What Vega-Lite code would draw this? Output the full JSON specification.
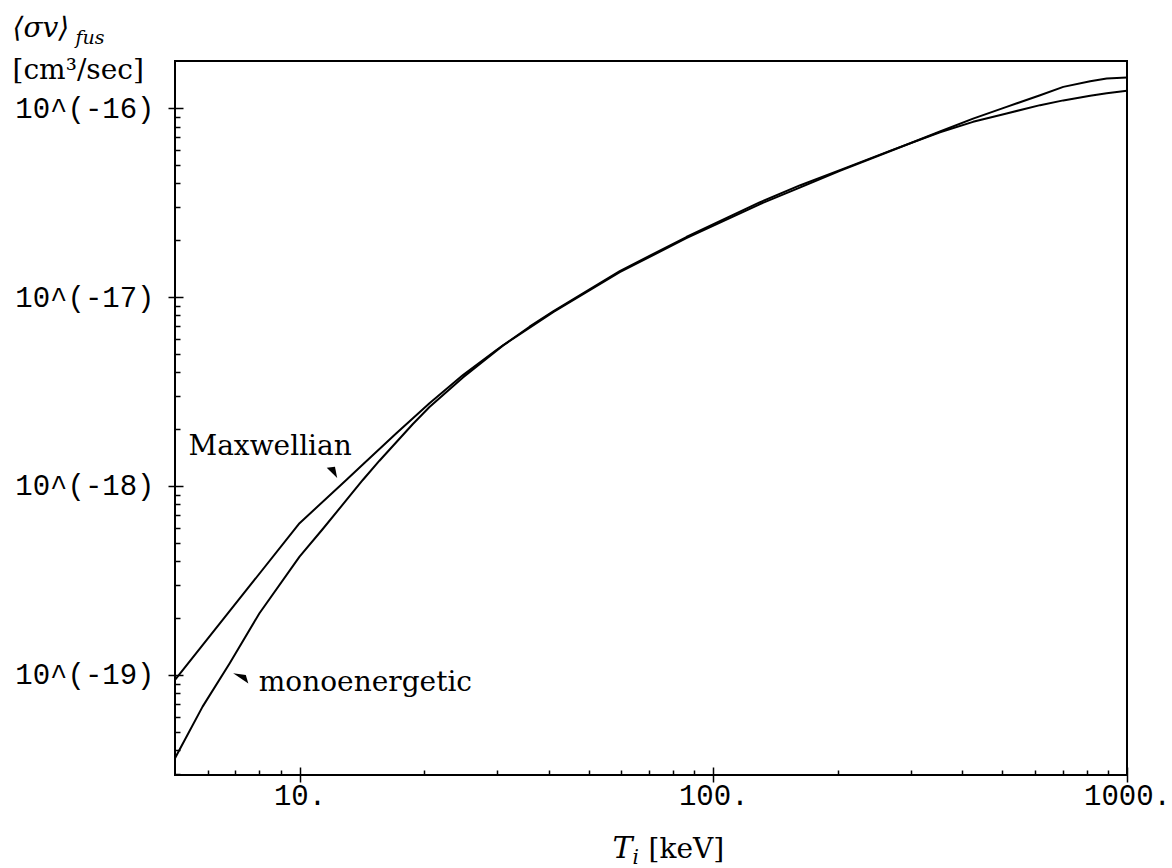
{
  "$schema": "https://vega.github.io/schema/vega-lite/v6.json",
  "width": 952,
  "height": 714,
  "autosize": {"type": "none"},
  "padding": {"left": 175, "top": 61, "right": 45, "bottom": 93},
  "background": "white",
  "config": {
    "view": {"stroke": "black", "strokeWidth": 2},
    "axis": {"grid": false, "domain": false, "tickColor": "black", "labelColor": "black", "titleColor": "black", "labelFlush": false, "labelOverlap": false, "labelBound": false, "titleFontWeight": "normal"}
  },
  "datasets": {
    "curves": [
      {"T": 5.0, "sv": 9.42e-20, "curve": "Maxwellian"},
      {"T": 10.0, "sv": 6.35e-19, "curve": "Maxwellian"},
      {"T": 12.97, "sv": 1.076e-18, "curve": "Maxwellian"},
      {"T": 14.22, "sv": 1.30e-18, "curve": "Maxwellian"},
      {"T": 17.14, "sv": 1.901e-18, "curve": "Maxwellian"},
      {"T": 20.61, "sv": 2.742e-18, "curve": "Maxwellian"},
      {"T": 24.83, "sv": 3.864e-18, "curve": "Maxwellian"},
      {"T": 29.92, "sv": 5.25e-18, "curve": "Maxwellian"},
      {"T": 35.97, "sv": 6.97e-18, "curve": "Maxwellian"},
      {"T": 41.02, "sv": 8.41e-18, "curve": "Maxwellian"},
      {"T": 59.43, "sv": 1.374e-17, "curve": "Maxwellian"},
      {"T": 86.1, "sv": 2.08e-17, "curve": "Maxwellian"},
      {"T": 129.4, "sv": 3.17e-17, "curve": "Maxwellian"},
      {"T": 161.8, "sv": 3.9e-17, "curve": "Maxwellian"},
      {"T": 202.3, "sv": 4.7e-17, "curve": "Maxwellian"},
      {"T": 267.3, "sv": 5.94e-17, "curve": "Maxwellian"},
      {"T": 353.2, "sv": 7.46e-17, "curve": "Maxwellian"},
      {"T": 424.6, "sv": 8.47e-17, "curve": "Maxwellian"},
      {"T": 511.7, "sv": 9.38e-17, "curve": "Maxwellian"},
      {"T": 616.6, "sv": 1.038e-16, "curve": "Maxwellian"},
      {"T": 701.5, "sv": 1.1e-16, "curve": "Maxwellian"},
      {"T": 814.7, "sv": 1.165e-16, "curve": "Maxwellian"},
      {"T": 893.3, "sv": 1.2e-16, "curve": "Maxwellian"},
      {"T": 1000, "sv": 1.236e-16, "curve": "Maxwellian"},
      {"T": 5.0, "sv": 3.62e-20, "curve": "monoenergetic"},
      {"T": 5.83, "sv": 6.79e-20, "curve": "monoenergetic"},
      {"T": 6.78, "sv": 1.153e-19, "curve": "monoenergetic"},
      {"T": 8.0, "sv": 2.12e-19, "curve": "monoenergetic"},
      {"T": 10.0, "sv": 4.23e-19, "curve": "monoenergetic"},
      {"T": 11.38, "sv": 5.92e-19, "curve": "monoenergetic"},
      {"T": 14.22, "sv": 1.076e-18, "curve": "monoenergetic"},
      {"T": 15.6, "sv": 1.361e-18, "curve": "monoenergetic"},
      {"T": 18.79, "sv": 2.128e-18, "curve": "monoenergetic"},
      {"T": 20.61, "sv": 2.618e-18, "curve": "monoenergetic"},
      {"T": 24.83, "sv": 3.758e-18, "curve": "monoenergetic"},
      {"T": 31.05, "sv": 5.55e-18, "curve": "monoenergetic"},
      {"T": 41.02, "sv": 8.32e-18, "curve": "monoenergetic"},
      {"T": 59.43, "sv": 1.355e-17, "curve": "monoenergetic"},
      {"T": 86.1, "sv": 2.05e-17, "curve": "monoenergetic"},
      {"T": 129.4, "sv": 3.1e-17, "curve": "monoenergetic"},
      {"T": 161.8, "sv": 3.8e-17, "curve": "monoenergetic"},
      {"T": 202.3, "sv": 4.66e-17, "curve": "monoenergetic"},
      {"T": 267.3, "sv": 5.92e-17, "curve": "monoenergetic"},
      {"T": 353.2, "sv": 7.53e-17, "curve": "monoenergetic"},
      {"T": 424.6, "sv": 8.81e-17, "curve": "monoenergetic"},
      {"T": 511.7, "sv": 1.016e-16, "curve": "monoenergetic"},
      {"T": 616.6, "sv": 1.172e-16, "curve": "monoenergetic"},
      {"T": 701.5, "sv": 1.297e-16, "curve": "monoenergetic"},
      {"T": 814.7, "sv": 1.39e-16, "curve": "monoenergetic"},
      {"T": 893.3, "sv": 1.436e-16, "curve": "monoenergetic"},
      {"T": 1000, "sv": 1.452e-16, "curve": "monoenergetic"}
    ],
    "labels": [
      {"T": 5.39, "sv": 1.46e-18, "label": "Maxwellian"},
      {"T": 7.97, "sv": 8.17e-20, "label": "monoenergetic"}
    ],
    "arrows": [
      {"T": 12.03, "sv": 1.194e-18, "curve": "Maxwellian"},
      {"T": 7.26, "sv": 9.64e-20, "curve": "monoenergetic"}
    ]
  },
  "layer": [
    {
      "data": {"name": "curves"},
      "mark": {"type": "line", "color": "black", "strokeWidth": 2, "clip": true, "interpolate": "linear", "strokeJoin": "round"},
      "encoding": {
        "x": {
          "field": "T", "type": "quantitative",
          "scale": {"type": "log", "domain": [5, 1000], "nice": false},
          "axis": {
            "orient": "bottom", "values": [10, 100, 1000],
            "labelExpr": "datum.value + '.'",
            "labelFont": "Liberation Mono", "labelFontSize": 29, "labelPadding": -1,
            "tickSize": 7, "tickWidth": 1.5,
            "title": "T", "titleFont": "DejaVu Serif", "titleFontStyle": "italic", "titleFontSize": 30,
            "titleX": 437, "titleY": 82, "titleAlign": "left", "titleBaseline": "alphabetic", "titleAngle": 0
          }
        },
        "y": {
          "field": "sv", "type": "quantitative",
          "scale": {"type": "log", "domain": [2.951e-20, 1.778e-16], "nice": false},
          "axis": {
            "orient": "left", "values": [1e-19, 1e-18, 1e-17, 1e-16],
            "labelExpr": "'10^(' + round(log(datum.value)/LN10) + ')'",
            "labelFont": "Liberation Mono", "labelFontSize": 29, "labelPadding": 14,
            "tickSize": 7, "tickWidth": 1.5,
            "title": "⟨σv⟩", "titleFont": "DejaVu Serif", "titleFontStyle": "italic", "titleFontSize": 28,
            "titleX": -163, "titleY": -25, "titleAlign": "left", "titleBaseline": "alphabetic", "titleAngle": 0
          }
        },
        "detail": {"field": "curve"}
      }
    },
    {
      "data": {"name": "labels"},
      "mark": {"type": "text", "font": "DejaVu Serif", "fontSize": 28, "align": "left", "baseline": "alphabetic", "color": "black"},
      "encoding": {
        "x": {
          "field": "T", "type": "quantitative",
          "scale": {"type": "log", "domain": [5, 1000], "nice": false},
          "axis": {
            "orient": "bottom",
            "values": [6, 7, 8, 9, 20, 30, 40, 50, 60, 70, 80, 90, 200, 300, 400, 500, 600, 700, 800, 900],
            "labels": false, "tickSize": -5, "tickWidth": 1.5,
            "title": "i", "titleFont": "DejaVu Serif", "titleFontStyle": "italic", "titleFontSize": 20,
            "titleX": 457, "titleY": 88, "titleAlign": "left", "titleBaseline": "alphabetic", "titleAngle": 0
          }
        },
        "y": {
          "field": "sv", "type": "quantitative",
          "scale": {"type": "log", "domain": [2.951e-20, 1.778e-16], "nice": false},
          "axis": {
            "orient": "left",
            "values": [3e-20, 4e-20, 5e-20, 6e-20, 7e-20, 8e-20, 9e-20, 2e-19, 3e-19, 4e-19, 5e-19, 6e-19, 7e-19, 8e-19, 9e-19, 2e-18, 3e-18, 4e-18, 5e-18, 6e-18, 7e-18, 8e-18, 9e-18, 2e-17, 3e-17, 4e-17, 5e-17, 6e-17, 7e-17, 8e-17, 9e-17],
            "labels": false, "tickSize": -5, "tickWidth": 1.5,
            "title": "fus", "titleFont": "DejaVu Serif", "titleFontStyle": "italic", "titleFontSize": 19,
            "titleX": -100, "titleY": -18, "titleAlign": "left", "titleBaseline": "alphabetic", "titleAngle": 0
          }
        },
        "text": {"field": "label"}
      }
    },
    {
      "data": {"name": "arrows"},
      "mark": {"type": "point", "filled": true, "color": "black", "opacity": 1, "size": 160, "strokeWidth": 0},
      "encoding": {
        "x": {
          "field": "T", "type": "quantitative",
          "scale": {"type": "log", "domain": [5, 1000], "nice": false},
          "axis": {
            "orient": "bottom", "values": [10, 100, 1000], "labels": false, "tickSize": -8, "tickWidth": 1.5,
            "title": "[keV]", "titleFont": "DejaVu Serif", "titleFontSize": 28,
            "titleX": 473, "titleY": 82, "titleAlign": "left", "titleBaseline": "alphabetic", "titleAngle": 0
          }
        },
        "y": {
          "field": "sv", "type": "quantitative",
          "scale": {"type": "log", "domain": [2.951e-20, 1.778e-16], "nice": false},
          "axis": {
            "orient": "left", "values": [1e-19, 1e-18, 1e-17, 1e-16], "labels": false, "tickSize": -8, "tickWidth": 1.5,
            "title": "[cm³/sec]", "titleFont": "DejaVu Serif", "titleFontSize": 28,
            "titleX": -163, "titleY": 17, "titleAlign": "left", "titleBaseline": "alphabetic", "titleAngle": 0
          }
        },
        "shape": {"condition": {"test": "datum.curve === 'Maxwellian'", "value": "M -0.95 -0.6 L 0.35 -0.75 L 0.7 1.05 Z"}, "value": "M -1.4 -0.75 L 0.6 -0.45 L 1 0.9 Z"}
      }
    }
  ],
  "resolve": {"axis": {"x": "independent", "y": "independent"}}
}
